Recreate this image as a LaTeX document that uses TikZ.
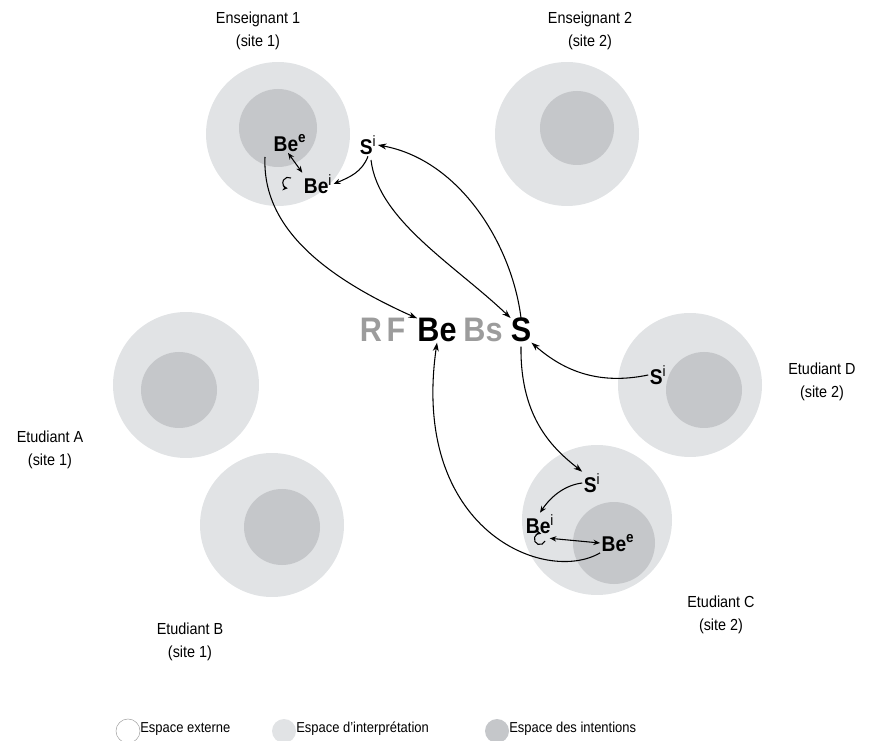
\documentclass[tikz,border=0pt]{standalone}
\usepackage{fontspec}
\setmainfont[FakeStretch=0.9]{Liberation Sans}
\usetikzlibrary{arrows.meta}
\definecolor{outerc}{HTML}{E1E3E5}
\definecolor{innerc}{HTML}{C5C7CA}
\definecolor{grayt}{HTML}{9C9C9C}
\begin{document}
\begin{tikzpicture}[x=0.75pt,y=-0.75pt,
  lbl/.style={align=center, inner sep=0, font=\fontsize{12}{17.3}\selectfont},
  big/.style={inner sep=0, anchor=base, font=\fontsize{25.5}{28}\selectfont\bfseries},
  sm/.style={inner sep=1pt, font=\fontsize{16}{18}\selectfont\bfseries},
  leg/.style={inner sep=0, anchor=west, font=\fontsize{10.8}{13}\selectfont},
  arr/.style={line width=0.8pt, -{Stealth[length=6.5pt,width=4.5pt]}},
  sarr/.style={line width=0.8pt, -{Stealth[length=5pt,width=4pt]}},
  darr/.style={line width=0.8pt, {Stealth[length=5pt,width=4pt]}-{Stealth[length=5pt,width=4pt]}},
  loopa/.style={line width=0.8pt, -{Stealth[length=4pt,width=4pt]}}
]
\useasboundingbox (0,0) rectangle (882,741);
% circles
\fill[outerc] (278,134) circle[radius=72];
\fill[innerc] (278,128) circle[radius=39];
\fill[outerc] (567,134) circle[radius=72];
\fill[innerc] (577,128) circle[radius=37];
\fill[outerc] (186,385) circle[radius=73];
\fill[innerc] (179,390) circle[radius=38];
\fill[outerc] (272,525) circle[radius=72];
\fill[innerc] (282,527) circle[radius=38];
\fill[outerc] (690,385) circle[radius=72];
\fill[innerc] (704,390) circle[radius=38];
\fill[outerc] (597,520) circle[radius=75];
\fill[innerc] (614,543) circle[radius=41];

% labels
\node[lbl] (ens1) at (258,31) {Enseignant 1\\(site 1)};
\node[lbl] (ens2) at (590,31) {Enseignant 2\\(site 2)};
\node[lbl] (etA) at (50,450) {Etudiant A\\(site 1)};
\node[lbl] (etB) at (190,642) {Etudiant B\\(site 1)};
\node[lbl] (etD) at (822,382) {Etudiant D\\(site 2)};
\node[lbl] (etC) at (721,615) {Etudiant C\\(site 2)};

% central
\node[big, text=grayt] (R) at (371,342) {R};
\node[big, text=grayt] (F) at (396,342) {F};
\node[big] (Be) at (437,342) {Be};
\node[big, text=grayt] (Bs) at (483,342) {Bs};
\node[big] (S) at (521,342) {S};

% small labels Enseignant 1
\node[sm] (bee1) at (290,143) {Be\textsuperscript{e}};
\node[sm] (si1) at (368,145) {S\textsuperscript{\mdseries i}};
\node[sm] (bei1) at (318,184) {Be\textsuperscript{\mdseries i}};
% Etudiant D
\node[sm] (siD) at (658,375) {S\textsuperscript{\mdseries i}};
% Etudiant C
\node[sm] (siC) at (592,483) {S\textsuperscript{\mdseries i}};
\node[sm] (beiC) at (540,524) {Be\textsuperscript{\mdseries i}};
\node[sm] (beeC) at (618,543) {Be\textsuperscript{e}};

% big connectors
\draw[arr] (265,157) .. controls (262,225) and (320,275) .. (Be.north west);
\draw[arr] (S.north) .. controls (512,245) and (460,160) .. (si1.east);
\draw[arr] (371,160) .. controls (378,220) and (455,265) .. (S.north west);
\draw[arr] (siD.west) .. controls (600,385) and (565,372) .. (S.south east);
\draw[arr] (S.south) ++(0,4) .. controls (520,420) and (555,450) .. (siC.north west);
\draw[arr] (beeC.south west) .. controls (545,585) and (410,530) .. (Be.south);

% small connectors Enseignant 1
\draw[darr] (bee1.south) ++(-2,0) -- (bei1.north west);
\draw[sarr] (si1.south) .. controls (362,172) and (350,177) .. (bei1.east);
\draw[loopa] (291,178) arc[start angle=-60, end angle=-265, radius=5.5];
% small connectors Etudiant C
\draw[sarr] (siC.west) .. controls (566,485) and (552,495) .. (beiC.north);
\draw[darr] (beiC.south east) ++(-6,3) -- (beeC.west);
\draw[loopa] (545,541) arc[start angle=20, end angle=285, radius=5.5];

% legend
\draw[gray!70, line width=0.4pt, fill=white] (128,731) circle[radius=12];
\node[leg] (l1) at (140,729) {Espace externe};
\fill[outerc] (284,731) circle[radius=12];
\node[leg] (l2) at (296,729) {Espace d'interprétation};
\fill[innerc] (497,731) circle[radius=12];
\node[leg] (l3) at (509,729) {Espace des intentions};
\end{tikzpicture}
\end{document}
